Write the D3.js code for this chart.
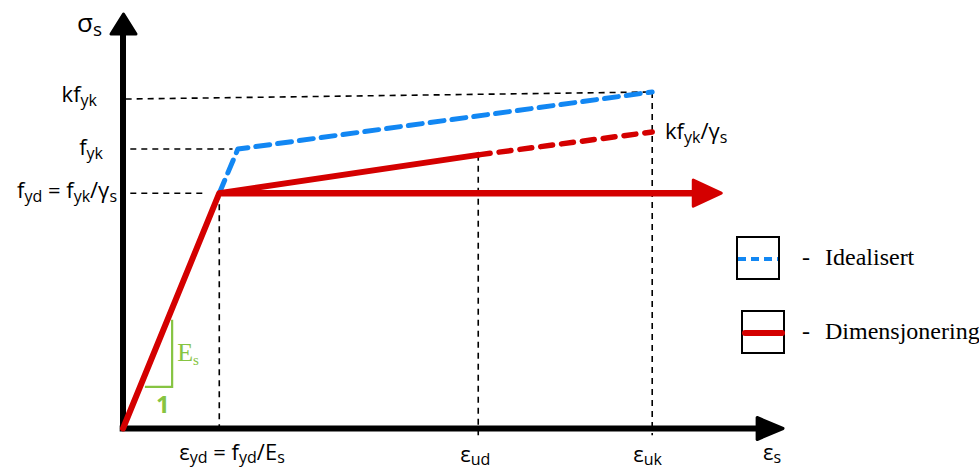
<!DOCTYPE html>
<html>
<head>
<meta charset="utf-8">
<script src="https://cdn.jsdelivr.net/npm/d3@7"></script>
<style>
  html, body { margin: 0; padding: 0; background: #fff; }
  svg { display: block; }
  text { font-family: "Comic Sans MS", "Open Sans", "DejaVu Sans", sans-serif; fill: #000; }
  .legend text { font-family: "Liberation Serif", "DejaVu Serif", serif; }
</style>
</head>
<body>
<div id="chart"></div>
<script>
// Strain positions (arbitrary units, 0..100 along the axis)
var strainKeys = ["yd", "ud", "uk"];
var strainValues = [14.5, 53.5, 79.7];
// Stress levels (arbitrary units, 0..100 along the axis)
var stressKeys = ["fyd", "fyk", "kfyk"];
var stressValues = [56.5, 67.1, 80.8];

// Idealised curve (blue dashed): yield point -> kink -> end
var idealStrain = [14.5, 17.3, 79.7];
var idealStress = [56.5, 67.1, 80.8];
// Design curve (red): solid part and dashed continuation
var designStrain = [0, 14.5, 53.5];
var designStress = [0, 56.5, 65.7];
var designExtStrain = [53.5, 79.7];
var designExtStress = [65.7, 71.2];
// Horizontal plateau (red arrow)
var plateauStrain = [14.5, 90.1];
var plateauStress = 56.5;
// Guide for kfyk starts a little lower at the axis
var kGuideStress = [79.1, 80.8];
// Slope triangle corners
var triStrain = [3.3, 7.4, 7.4];
var triStress = [10.0, 10.0, 26.1];

var width = 979, height = 472;
var svg = d3.select("#chart").append("svg")
  .attr("width", width)
  .attr("height", height);

var x = d3.scaleLinear().domain([0, 100]).range([123, 787]);
var y = d3.scaleLinear().domain([0, 100]).range([428.5, 12]);

var red = "#d40000", blue = "#1287f3", green = "#86c442";

var line = d3.line().x(d => x(d[0])).y(d => y(d[1]));
function pairs(a, b) { return a.map((v, i) => [v, b[i]]); }

// ---- dashed guide lines
var guides = svg.append("g")
  .attr("stroke", "#000")
  .attr("stroke-width", 1.6)
  .attr("stroke-dasharray", "6,5")
  .attr("fill", "none");

guides.append("path").attr("d", line([[0.4, kGuideStress[0]], [strainValues[2], kGuideStress[1]]]));
guides.append("path").attr("d", line([[1.1, stressValues[1]], [16.5, stressValues[1]]]));
guides.append("path").attr("d", line([[1.1, stressValues[0]], [12.4, stressValues[0]]]));

var guideTop = [stressValues[0], designStress[2], idealStress[2]];
strainValues.forEach(function (s, i) {
  guides.append("line")
    .attr("x1", x(s)).attr("x2", x(s))
    .attr("y1", y(guideTop[i])).attr("y2", y(-1.6));
});

// ---- axes
var axes = svg.append("g");
axes.append("line")
  .attr("x1", x(0)).attr("x2", x(0))
  .attr("y1", y(-0.5)).attr("y2", y(94.5))
  .attr("stroke", "#000").attr("stroke-width", 6);
axes.append("path")
  .attr("d", `M${x(0) - 12},${y(94.7)}L${x(0) + 13},${y(94.7)}L${x(0) + 0.5},${y(99.5)}Z`)
  .attr("fill", "#000").attr("stroke", "#000")
  .attr("stroke-width", 3).attr("stroke-linejoin", "round");

axes.append("line")
  .attr("x1", x(-0.5)).attr("x2", x(96))
  .attr("y1", y(0)).attr("y2", y(0))
  .attr("stroke", "#000").attr("stroke-width", 6);
axes.append("path")
  .attr("d", `M${x(95.5)},${y(0) + 11}L${x(95.5)},${y(0) - 11}L${x(99.4)},${y(0)}Z`)
  .attr("fill", "#000").attr("stroke", "#000")
  .attr("stroke-width", 3).attr("stroke-linejoin", "round");

// ---- idealised curve
svg.append("path")
  .attr("d", line(pairs(idealStrain, idealStress)))
  .attr("fill", "none").attr("stroke", blue)
  .attr("stroke-width", 5).attr("stroke-dasharray", "14,8")
  .attr("stroke-linecap", "round").attr("stroke-linejoin", "round");

// ---- design curve
svg.append("path")
  .attr("d", line(pairs(designStrain, designStress)))
  .attr("fill", "none").attr("stroke", red)
  .attr("stroke-width", 6)
  .attr("stroke-linecap", "round").attr("stroke-linejoin", "round");
svg.append("path")
  .attr("d", line(pairs(designExtStrain, designExtStress)))
  .attr("fill", "none").attr("stroke", red)
  .attr("stroke-width", 5.5).attr("stroke-dasharray", "12,9")
  .attr("stroke-linecap", "round");
svg.append("line")
  .attr("x1", x(plateauStrain[0])).attr("x2", x(plateauStrain[1]) - 26)
  .attr("y1", y(plateauStress)).attr("y2", y(plateauStress))
  .attr("stroke", red).attr("stroke-width", 6.5);
var tipX = x(plateauStrain[1]), tipY = y(plateauStress);
svg.append("path")
  .attr("d", `M${tipX - 28},${tipY - 13}L${tipX - 28},${tipY + 13}L${tipX},${tipY}Z`)
  .attr("fill", red).attr("stroke", red)
  .attr("stroke-width", 3).attr("stroke-linejoin", "round");

// ---- slope triangle
svg.append("path")
  .attr("d", line(pairs(triStrain, triStress)))
  .attr("fill", "none").attr("stroke", green).attr("stroke-width", 2.2);
var es = svg.append("text")
  .attr("x", x(triStrain[2]) + 5).attr("y", y(triStress[0]) - 26)
  .style("font-family", "'Liberation Serif', serif")
  .style("font-size", "26px").style("fill", green);
es.append("tspan").text("E");
es.append("tspan").attr("dy", 4).style("font-size", "15px").text("s");
svg.append("text")
  .attr("x", x(triStrain[0]) + 18).attr("y", y(triStress[0]) + 26)
  .attr("text-anchor", "middle")
  .style("font-size", "24px").style("font-weight", "bold").style("fill", green)
  .text("1");

// ---- labels
function label(parts, px, py, anchor, size, shift) {
  size = size || 21;
  shift = shift || 4;
  var t = svg.append("text")
    .attr("x", px).attr("y", py)
    .attr("text-anchor", anchor || "start")
    .style("font-size", size + "px");
  var sub = false;
  parts.forEach(function (p) {
    var isSub = p[1] === "sub";
    var ts = t.append("tspan").text(p[0]);
    if (isSub && !sub) ts.attr("dy", shift);
    if (!isSub && sub) ts.attr("dy", -shift);
    if (isSub) ts.style("font-size", Math.round(size * 0.72) + "px");
    sub = isSub;
  });
  return t;
}

label([["σ"], ["s", "sub"]], 77, 32, "start", 26);
label([["kf"], ["yk", "sub"]], 97, 102, "end", 22);
label([["f"], ["yk", "sub"]], 103, 155, "end", 22);
label([["f"], ["yd", "sub"], [" = f"], ["yk", "sub"], ["/γ"], ["s", "sub"]], 117, 198, "end", 22);
label([["kf"], ["yk", "sub"], ["/γ"], ["s", "sub"]], 665, 139, "start", 22);

label([["ε"], ["yd", "sub"], [" = f"], ["yd", "sub"], ["/E"], ["s", "sub"]], x(strainValues[0]) - 40, 460, "start", 22, 3);
label([["ε"], ["ud", "sub"]], x(strainValues[1]) - 18, 462, "start", 22, 3);
label([["ε"], ["uk", "sub"]], x(strainValues[2]) - 19, 462, "start", 22, 3);
label([["ε"], ["s", "sub"]], 763, 460, "start", 22, 3);

// ---- legend
var legendNames = ["Idealisert", "Dimensjonering"];
var legendColors = [blue, red];
var legend = svg.append("g").attr("class", "legend");
var boxes = [[737, 237], [742, 311]];
legendNames.forEach(function (name, i) {
  var bx = boxes[i][0], by = boxes[i][1];
  legend.append("rect")
    .attr("x", bx).attr("y", by).attr("width", 42).attr("height", 42)
    .attr("fill", "none").attr("stroke", "#000").attr("stroke-width", 2);
  legend.append("line")
    .attr("x1", bx + (i === 0 ? 1 : 3)).attr("x2", bx + (i === 0 ? 41 : 40))
    .attr("y1", by + 22).attr("y2", by + 22)
    .attr("stroke", legendColors[i])
    .attr("stroke-width", i === 0 ? 4 : 6)
    .attr("stroke-linecap", i === 0 ? "butt" : "round")
    .attr("stroke-dasharray", i === 0 ? "8,5" : null);
  legend.append("text")
    .attr("x", 802).attr("y", by + 28)
    .style("font-size", "24px")
    .text("-");
  legend.append("text")
    .attr("x", 825).attr("y", by + 28)
    .style("font-size", "24px")
    .text(name);
});
</script>
</body>
</html>
